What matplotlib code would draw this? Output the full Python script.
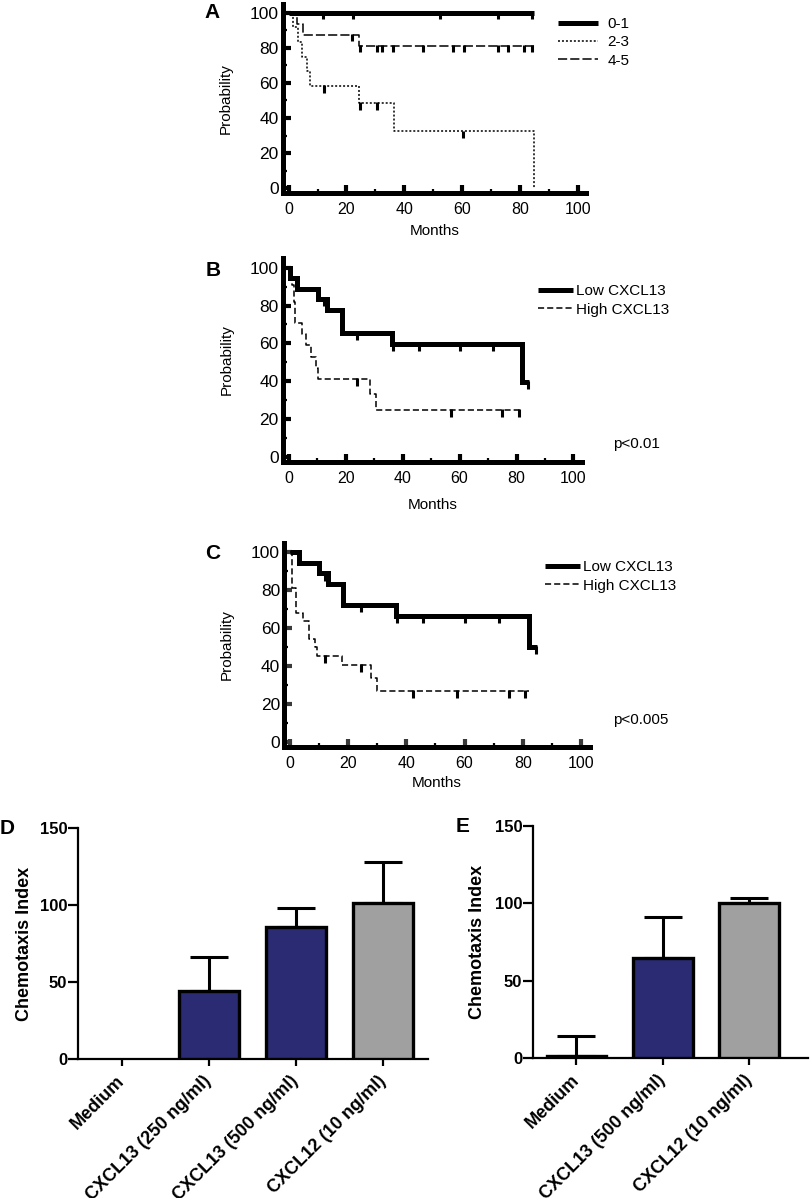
import numpy as np
import matplotlib
matplotlib.use('Agg')
import matplotlib.pyplot as plt
from matplotlib.ticker import MultipleLocator

plt.rcParams['font.family'] = ['Liberation Sans', 'DejaVu Sans']

# Panel A: survival by score group
a01_t = [0, 85]
a01_s = [100, 100]
a01_cens = [12.0, 22.4, 52.2, 72.3, 84.1]
a23_t = [0, 1.4, 3.1, 4.5, 6.5, 7.4, 24.5, 36.5, 85]
a23_s = [100, 91.7, 83.3, 75.0, 66.7, 58.3, 48.6, 32.4, 0]
a23_cens = [12.2, 24.8, 30.5, 60.3]
a45_t = [0, 2.8, 5.0, 24.5, 85]
a45_s = [100, 93.8, 87.5, 81.3, 81.3]
a45_cens = [22.0, 24.8, 30.5, 32.2, 36.2, 46.4, 57.0, 60.5, 72.3, 76.0, 81.4, 84.1]

# Panel B: low / high CXCL13
b_low_t = [0, 0.6, 3.0, 10.4, 13.3, 18.6, 36.2, 82.0, 84.5]
b_low_s = [100, 94.4, 88.9, 83.3, 77.8, 65.4, 59.5, 39.7, 39.7]
b_low_cens = [12.4, 23.9, 36.8, 45.9, 60.0, 71.9, 84.2]
b_high_t = [0, 1.0, 1.7, 2.3, 4.5, 6.0, 7.8, 9.5, 10.3, 28.5, 30.5, 82]
b_high_s = [100, 91.0, 82.0, 71.0, 65.0, 59.0, 53.0, 47.0, 41.0, 33.0, 24.7, 24.7]
b_high_cens = [24.1, 57.0, 75.0, 81.0]

# Panel C: low / high CXCL13
c_low_t = [0, 3.1, 10.0, 13.0, 18.3, 36.4, 82.2, 85]
c_low_s = [100, 94.4, 88.9, 83.3, 72.2, 66.7, 50.0, 50.0]
c_low_cens = [12.0, 24.3, 36.6, 45.8, 60.1, 71.9, 84.5]
c_high_t = [0, 0.8, 2.0, 4.5, 6.5, 8.6, 9.2, 18.0, 28.0, 30.0, 82]
c_high_s = [100, 81.0, 68.0, 63.6, 54.5, 50.0, 45.5, 40.9, 34.0, 27.0, 27.0]
c_high_cens = [12.0, 24.3, 42.3, 57.3, 75.4, 80.8]

# Panels D / E: chemotaxis
d_cats = ['Medium', 'CXCL13 (250 ng/ml)', 'CXCL13 (500 ng/ml)', 'CXCL12 (10 ng/ml)']
d_vals = [0, 44, 85.5, 101]
d_err = [0, 22.5, 12.5, 26.5]
e_cats = ['Medium', 'CXCL13 (500 ng/ml)', 'CXCL12 (10 ng/ml)']
e_vals = [1.5, 64.5, 100]
e_err = [13, 27, 3.7]

NAVY = '#2a2b72'
GREY = '#a0a0a0'

W, H = 810, 1198
fig = plt.figure(figsize=(W / 100, H / 100), dpi=100)


def ax_px(left, right, top, bottom):
    return fig.add_axes([left / W, 1 - bottom / H, (right - left) / W, (bottom - top) / H])


def surv_at(t, s, c):
    i = np.searchsorted(t, c, side='right') - 1
    return np.array(s)[i]


def km(ax, t, s, cens, lw, ls, label, mark_lw=2.2):
    ax.step(t, s, where='post', color='k', lw=lw, linestyle=ls, label=label,
            solid_capstyle='butt', solid_joinstyle='miter')
    c = np.array(cens)
    y = surv_at(t, s, c)
    ax.vlines(c, y - 3.8, y + 0.5, color='k', lw=mark_lw)


def km_style(ax, tickcol='k'):
    ax.set_xlim(-2, 103)
    ax.set_ylim(-2.5, 105)
    for sp in ['top', 'right']:
        ax.spines[sp].set_visible(False)
    for sp in ['left', 'bottom']:
        ax.spines[sp].set_linewidth(3.6)
    ax.xaxis.set_major_locator(MultipleLocator(20))
    ax.xaxis.set_minor_locator(MultipleLocator(10))
    ax.yaxis.set_major_locator(MultipleLocator(20))
    ax.yaxis.set_minor_locator(MultipleLocator(10))
    ax.tick_params(which='major', direction='in', length=5.5, width=3, color=tickcol)
    ax.tick_params(axis='x', which='major', labelsize=11.5, pad=6.5)
    ax.tick_params(axis='y', which='major', labelsize=12.5, pad=3)
    ax.tick_params(which='minor', direction='in', length=3, width=1.6)
    ax.set_ylabel('Probability', fontsize=11)
    ax.yaxis.set_label_coords(-0.165, 0.5)


def km_legend(ax, x, y, hl, hpad, spacing):
    ax.legend(loc='upper left', bbox_to_anchor=(x / W, 1 - y / H), bbox_transform=fig.transFigure,
              frameon=False, fontsize=11, handlelength=hl, handletextpad=hpad,
              labelspacing=spacing, borderpad=0, borderaxespad=0)


# ---- A ----
axA = ax_px(282.9, 586.4, 3.9, 192.7)
km(axA, a01_t, a01_s, a01_cens, 3.6, '-', '0-1')
km(axA, a23_t, a23_s, a23_cens, 1.1, (0, (1.3, 1.3)), '2-3')
km(axA, a45_t, a45_s, a45_cens, 1.1, (0, (6, 2)), '4-5')
km_style(axA)
axA.set_xlabel('Months', fontsize=11)
axA.xaxis.set_label_coords(0.5, -0.166)
km_legend(axA, 558, 17, 2.6, 0.65, 0.28)

# ---- B ----
axB = ax_px(283.0, 582.0, 258.2, 461.6)
km(axB, b_low_t, b_low_s, b_low_cens, 3.6, '-', 'Low CXCL13')
km(axB, b_high_t, b_high_s, b_high_cens, 1.1, (0, (4, 2)), 'High CXCL13')
km_style(axB)
axB.set_xlabel('Months', fontsize=11)
axB.xaxis.set_label_coords(0.5, -0.179)
km_legend(axB, 538, 284, 2.3, 0.2, 0.3)
fig.text(613 / W, 1 - 444 / H, 'p<0.01', fontsize=11, ha='left', va='center')

# ---- C ----
axC = ax_px(284.2, 589.7, 542.8, 747.0)
km(axC, c_low_t, c_low_s, c_low_cens, 3.6, '-', 'Low CXCL13')
km(axC, c_high_t, c_high_s, c_high_cens, 1.1, (0, (4, 2)), 'High CXCL13')
km_style(axC, tickcol='#3a3a3a')
axC.set_xlabel('Months', fontsize=11)
axC.xaxis.set_label_coords(0.5, -0.142)
km_legend(axC, 545, 560, 2.3, 0.2, 0.3)
fig.text(613 / W, 1 - 720 / H, 'p<0.005', fontsize=11, ha='left', va='center')


# ---- D / E ----
def bar_panel(ax, cats, vals, errs, colors, xmax, ylab_x):
    x = np.arange(len(cats))
    keep = [i for i, v in enumerate(vals) if v > 0]
    xk = x[keep]
    vk = np.array(vals)[keep]
    ek = np.array(errs)[keep]
    ax.errorbar(xk, vk, yerr=[np.zeros_like(ek), ek], fmt='none', ecolor='k',
                elinewidth=2.2, capsize=14, capthick=2.2, zorder=2)
    ax.bar(xk, vk, width=0.69, color=[colors[i] for i in keep], edgecolor='k',
           linewidth=2.4, zorder=3)
    ax.set_xlim(-0.5, xmax)
    ax.set_ylim(0, 150)
    ax.set_yticks([0, 50, 100, 150])
    ax.set_xticks(x)
    ax.set_xticklabels(cats, rotation=45, ha='right', va='center', rotation_mode='anchor',
                       fontsize=13, fontweight='bold')
    for lab in ax.get_yticklabels():
        lab.set_fontweight('bold')
    for sp in ['top', 'right']:
        ax.spines[sp].set_visible(False)
    for sp in ['left', 'bottom']:
        ax.spines[sp].set_linewidth(1.6)
    ax.tick_params(axis='y', direction='out', length=7, width=1.6, labelsize=12, pad=1)
    ax.tick_params(axis='x', direction='out', length=5, width=1.6, pad=9)
    ax.set_ylabel('Chemotaxis Index', fontsize=13, fontweight='bold')
    ax.yaxis.set_label_coords(ylab_x, 0.5)


axD = ax_px(78.3, 428.2, 827.7, 1059.3)
bar_panel(axD, d_cats, d_vals, d_err, ['w', NAVY, NAVY, GREY], 3.52, -0.129)

axE = ax_px(533.3, 808.0, 826.0, 1058.3)
bar_panel(axE, e_cats, e_vals, e_err, [NAVY, NAVY, GREY], 2.68, -0.172)

# panel letters
for lx, ly, s in [(212, 13, 'A'), (213, 270, 'B'), (213, 554, 'C'), (7, 829, 'D'), (463, 826, 'E')]:
    fig.text(lx / W, 1 - ly / H, s, fontsize=15, fontweight='bold', ha='center', va='center')

fig.savefig('out.png', dpi=100)
